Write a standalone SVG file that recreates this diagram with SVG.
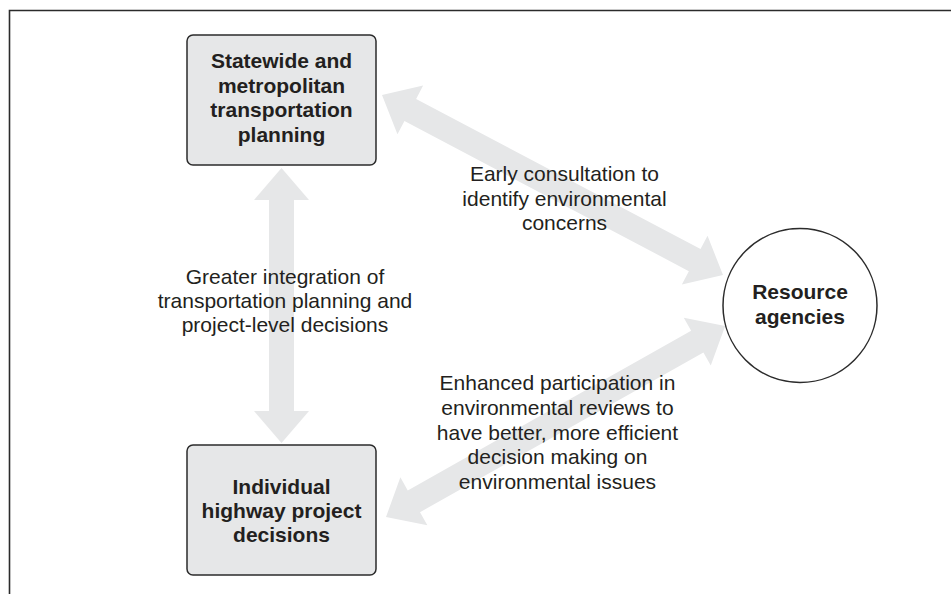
<svg xmlns="http://www.w3.org/2000/svg" width="951" height="594" viewBox="0 0 951 594">
  <style>
    .frame { fill: none; stroke: #2b2b2b; stroke-width: 1.6; }
    .box { fill: #e6e7e8; stroke: #2b2b2b; stroke-width: 1.5; }
    .circ { fill: #ffffff; stroke: #2b2b2b; stroke-width: 1.5; }
    .arrow { fill: #e6e7e8; stroke: none; }
    .bold { font-family: "Liberation Sans", Arial, sans-serif; font-size: 21px; font-weight: bold; fill: #231f20; text-anchor: middle; }
    .label { font-family: "Liberation Sans", Arial, sans-serif; font-size: 21px; fill: #231f20; text-anchor: middle; }
  </style>

  <!-- page frame: top and left rules -->
  <path class="frame" d="M9.5,594 V10.5 H951"/>

  <!-- double-headed block arrows -->
  <g id="connectors">
    <!-- planning <-> project decisions -->
    <polygon class="arrow" transform="translate(281.5,168) rotate(90)"
      points="0,0 32,-27.5 32,-12.5 243,-12.5 243,-27.5 275,0 243,27.5 243,12.5 32,12.5 32,27.5"/>
    <!-- planning <-> resource agencies -->
    <polygon class="arrow" transform="translate(382,95) rotate(27.83)"
      points="0,0 32,-27.5 32,-12.5 353.6,-12.5 353.6,-27.5 385.6,0 353.6,27.5 353.6,12.5 32,12.5 32,27.5"/>
    <!-- project decisions <-> resource agencies -->
    <polygon class="arrow" transform="translate(386,517) rotate(-29.4)"
      points="0,0 32,-27.5 32,-12.5 357.3,-12.5 357.3,-27.5 389.3,0 357.3,27.5 357.3,12.5 32,12.5 32,27.5"/>
  </g>

  <!-- connector labels -->
  <g id="label-consultation">
    <text class="label" x="564.5" y="181">Early consultation to</text>
    <text class="label" x="564.5" y="205.5">identify environmental</text>
    <text class="label" x="564.5" y="230">concerns</text>
  </g>
  <g id="label-integration">
    <text class="label" x="285" y="284">Greater integration of</text>
    <text class="label" x="285" y="308">transportation planning and</text>
    <text class="label" x="285" y="332">project-level decisions</text>
  </g>
  <g id="label-participation">
    <text class="label" x="557.5" y="390">Enhanced participation in</text>
    <text class="label" x="557.5" y="415">environmental reviews to</text>
    <text class="label" x="557.5" y="440">have better, more efficient</text>
    <text class="label" x="557.5" y="464">decision making on</text>
    <text class="label" x="557.5" y="489">environmental issues</text>
  </g>

  <!-- nodes -->
  <g id="node-planning">
    <rect class="box" x="187" y="35" width="189" height="130" rx="6"/>
    <text class="bold" x="281.5" y="68">Statewide and</text>
    <text class="bold" x="281.5" y="93">metropolitan</text>
    <text class="bold" x="281.5" y="117">transportation</text>
    <text class="bold" x="281.5" y="142">planning</text>
  </g>
  <g id="node-project">
    <rect class="box" x="187" y="445" width="189" height="130" rx="6"/>
    <text class="bold" x="281.5" y="494">Individual</text>
    <text class="bold" x="281.5" y="518">highway project</text>
    <text class="bold" x="281.5" y="542">decisions</text>
  </g>
  <g id="node-agencies">
    <circle class="circ" cx="800" cy="305.5" r="77"/>
    <text class="bold" x="800" y="299">Resource</text>
    <text class="bold" x="800" y="324">agencies</text>
  </g>
</svg>
